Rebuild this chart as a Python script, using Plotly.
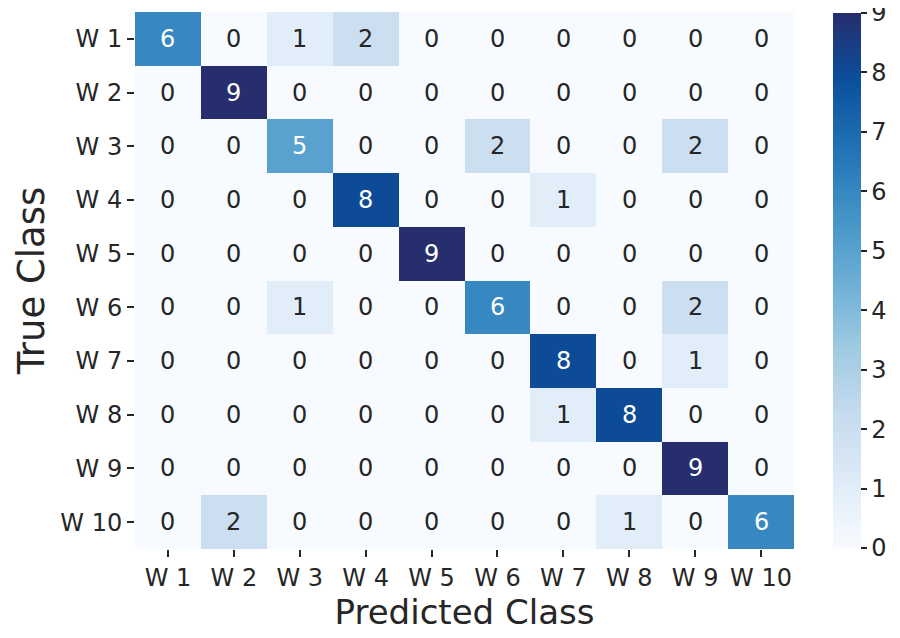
import plotly.graph_objects as go

# Confusion matrix values (rows = true class, cols = predicted class)
classes = ['W 1', 'W 2', 'W 3', 'W 4', 'W 5', 'W 6', 'W 7', 'W 8', 'W 9', 'W 10']
row_w1 = [6, 0, 1, 2, 0, 0, 0, 0, 0, 0]
row_w2 = [0, 9, 0, 0, 0, 0, 0, 0, 0, 0]
row_w3 = [0, 0, 5, 0, 0, 2, 0, 0, 2, 0]
row_w4 = [0, 0, 0, 8, 0, 0, 1, 0, 0, 0]
row_w5 = [0, 0, 0, 0, 9, 0, 0, 0, 0, 0]
row_w6 = [0, 0, 1, 0, 0, 6, 0, 0, 2, 0]
row_w7 = [0, 0, 0, 0, 0, 0, 8, 0, 1, 0]
row_w8 = [0, 0, 0, 0, 0, 0, 1, 8, 0, 0]
row_w9 = [0, 0, 0, 0, 0, 0, 0, 0, 9, 0]
row_w10 = [0, 2, 0, 0, 0, 0, 0, 1, 0, 6]
matrix = [row_w1, row_w2, row_w3, row_w4, row_w5,
          row_w6, row_w7, row_w8, row_w9, row_w10]
cbar_ticks = [0, 1, 2, 3, 4, 5, 6, 7, 8, 9]

FONT = 'DejaVu Sans'
TEXT_DARK = '#262626'
LABEL_SIZE = 24

blues = [
    [0.0, '#f7fbff'], [0.125, '#deebf7'], [0.25, '#c6dbef'],
    [0.375, '#9ecae1'], [0.5, '#6baed6'], [0.625, '#4292c6'],
    [0.75, '#2171b5'], [0.875, '#0b4f9c'], [1.0, '#262e6e'],
]

fig = go.Figure(go.Heatmap(
    z=matrix, x=classes, y=classes,
    colorscale=blues, zmin=0, zmax=9,
    showscale=True, xgap=0, ygap=0,
    hoverinfo='skip',
    colorbar=dict(
        x=1.059, xanchor='left', xref='paper', xpad=0, ypad=1,
        y=0.5, yanchor='middle', len=1.0, lenmode='fraction',
        thickness=28, outlinewidth=0,
        tickvals=cbar_ticks, ticks='outside', ticklen=6,
        tickwidth=1.5, tickcolor=TEXT_DARK,
        ticklabeloverflow='allow',
        tickfont=dict(family=FONT, size=LABEL_SIZE, color=TEXT_DARK),
    ),
))

# Cell annotations: white text on dark cells, dark text on light
for i, row in enumerate(matrix):
    for j, v in enumerate(row):
        fig.add_annotation(
            x=classes[j], y=classes[i], text=str(v), showarrow=False,
            font=dict(family=FONT, size=LABEL_SIZE,
                      color='white' if v >= 5 else TEXT_DARK),
        )

# page shows the figure offset by ~8px, so margins are trimmed to match
fig.update_layout(
    width=900, height=638,
    margin=dict(l=127, r=114, t=4, b=97, autoexpand=False),
    paper_bgcolor='white', plot_bgcolor='white',
    font=dict(family=FONT, color=TEXT_DARK),
)
fig.update_xaxes(
    automargin=False,
    showgrid=False, zeroline=False, showline=False,
    ticks='outside', ticklen=7, tickwidth=1.5, tickcolor=TEXT_DARK,
    tickfont=dict(family=FONT, size=LABEL_SIZE, color=TEXT_DARK),
    title=dict(text='Predicted Class', font=dict(family=FONT, size=34, color=TEXT_DARK), standoff=0),
)
fig.update_yaxes(
    automargin=False,
    autorange='reversed',
    showgrid=False, zeroline=False, showline=False,
    ticks='outside', ticklen=7, tickwidth=1.5, tickcolor=TEXT_DARK,
    tickfont=dict(family=FONT, size=LABEL_SIZE, color=TEXT_DARK),
    title=dict(text='True Class', font=dict(family=FONT, size=37, color=TEXT_DARK), standoff=4),
)

fig.write_html("out.html")
